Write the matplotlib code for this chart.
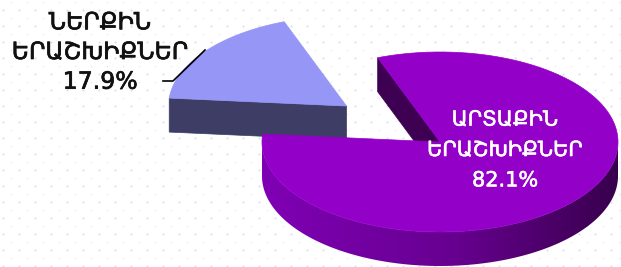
import numpy as np
import matplotlib.pyplot as plt
from matplotlib.patches import Polygon
import matplotlib.patheffects as pe

# data
labels = ['ՆԵՐՔԻՆ\nԵՐԱՇԽԻՔՆԵՐ', 'ԱՐՏԱՔԻՆ\nԵՐԱՇԽԻՔՆԵՐ']
shares = [17.9, 82.1]
top_colors = ['#9696f7', '#9300c7']
side_colors = ['#3d3d66', '#3e0052']

# pie geometry in pixels
cx, cy = 440, 142
a, b = 178, 90
depth = 34
start = 110.5
explode = [0.66, 0.0]

fig = plt.figure(figsize=(6.21, 2.67), dpi=100)
ax = fig.add_axes([0, 0, 1, 1])

# dotted background
gx, gy = np.meshgrid(np.arange(3, 621, 16), np.arange(10, 267, 16))
ax.scatter(gx.ravel(), gy.ravel(), s=2.5, color='#dde1f3', lw=0, zorder=0)
gx, gy = np.meshgrid(np.arange(11, 621, 16), np.arange(2, 267, 16))
ax.scatter(gx.ravel(), gy.ravel(), s=1.2, color='#e6e8f6', lw=0, zorder=0)


def pt(t, dz=0, off=(0, 0)):
    t = np.radians(t)
    return np.column_stack([cx + a * np.cos(t) + off[0], cy - b * np.sin(t) + dz + off[1]])


angles = []
th = start
for s in shares:
    span = s / 100 * 360
    angles.append((th, th + span))
    th += span

# horizontal gradient for the front rim
xs = np.linspace(0, 1, 256)
c_left = np.array([0.50, 0.0, 0.71])
c_mid = np.array([0.40, 0.0, 0.56])
c_right = np.array([0.22, 0.0, 0.30])
grad = np.where(xs[:, None] < 0.55,
                c_left + (c_mid - c_left) * (xs[:, None] / 0.55),
                c_mid + (c_right - c_mid) * ((xs[:, None] - 0.55) / 0.45))
grad = grad[None, :, :]

z = 1
for i, (t1, t2) in enumerate(angles):
    tm = np.radians((t1 + t2) / 2)
    off = (explode[i] * a * np.cos(tm), -explode[i] * b * np.sin(tm))
    c = np.array([[cx + off[0], cy + off[1]]])
    cb = c + [0, depth]

    # outer rim on front half
    lo, hi = max(t1, 180), min(t2, 360)
    if hi > lo:
        ts = np.linspace(lo, hi, 200)
        rim = Polygon(np.vstack([pt(ts, 0, off), pt(ts[::-1], depth, off)]), closed=True,
                      fc='none', ec='none', zorder=z)
        ax.add_patch(rim)
        x0 = cx - a + off[0]
        im = ax.imshow(grad, extent=[x0, x0 + 2 * a, cy + off[1] + b + depth, cy + off[1]],
                       aspect='auto', zorder=z, interpolation='bilinear')
        im.set_clip_path(rim)

    # visible radial face
    e = pt([t2], 0, off)
    face = np.vstack([c, e, e + [0, depth], cb])
    ax.add_patch(Polygon(face, closed=True, fc=side_colors[i], ec=side_colors[i], lw=0.5, zorder=z))

    arc = pt(np.linspace(t1, t2, 200), 0, off)
    ax.add_patch(Polygon(np.vstack([c, arc]), closed=True, fc=top_colors[i], ec=top_colors[i],
                         lw=0.5, zorder=z + 1))
    z += 2

ax.set_xlim(0, 621)
ax.set_ylim(267, 0)
ax.axis('off')

# labels
ax.text(100, 52, labels[0] + '\n' + f'{shares[0]}%', ha='center', va='center', fontsize=17,
        color='#111111', linespacing=1.3, zorder=10,
        path_effects=[pe.withStroke(linewidth=0.5, foreground='#111111')])
ax.plot([163, 173, 205], [81, 81, 50], color='black', lw=1.2, zorder=10)
ax.text(505, 150, labels[1] + '\n' + f'{shares[1]}%', ha='center', va='center', fontsize=15,
        color='white', linespacing=1.65, zorder=10,
        path_effects=[pe.withStroke(linewidth=0.4, foreground='white')])

fig.savefig('out.png', dpi=100)
